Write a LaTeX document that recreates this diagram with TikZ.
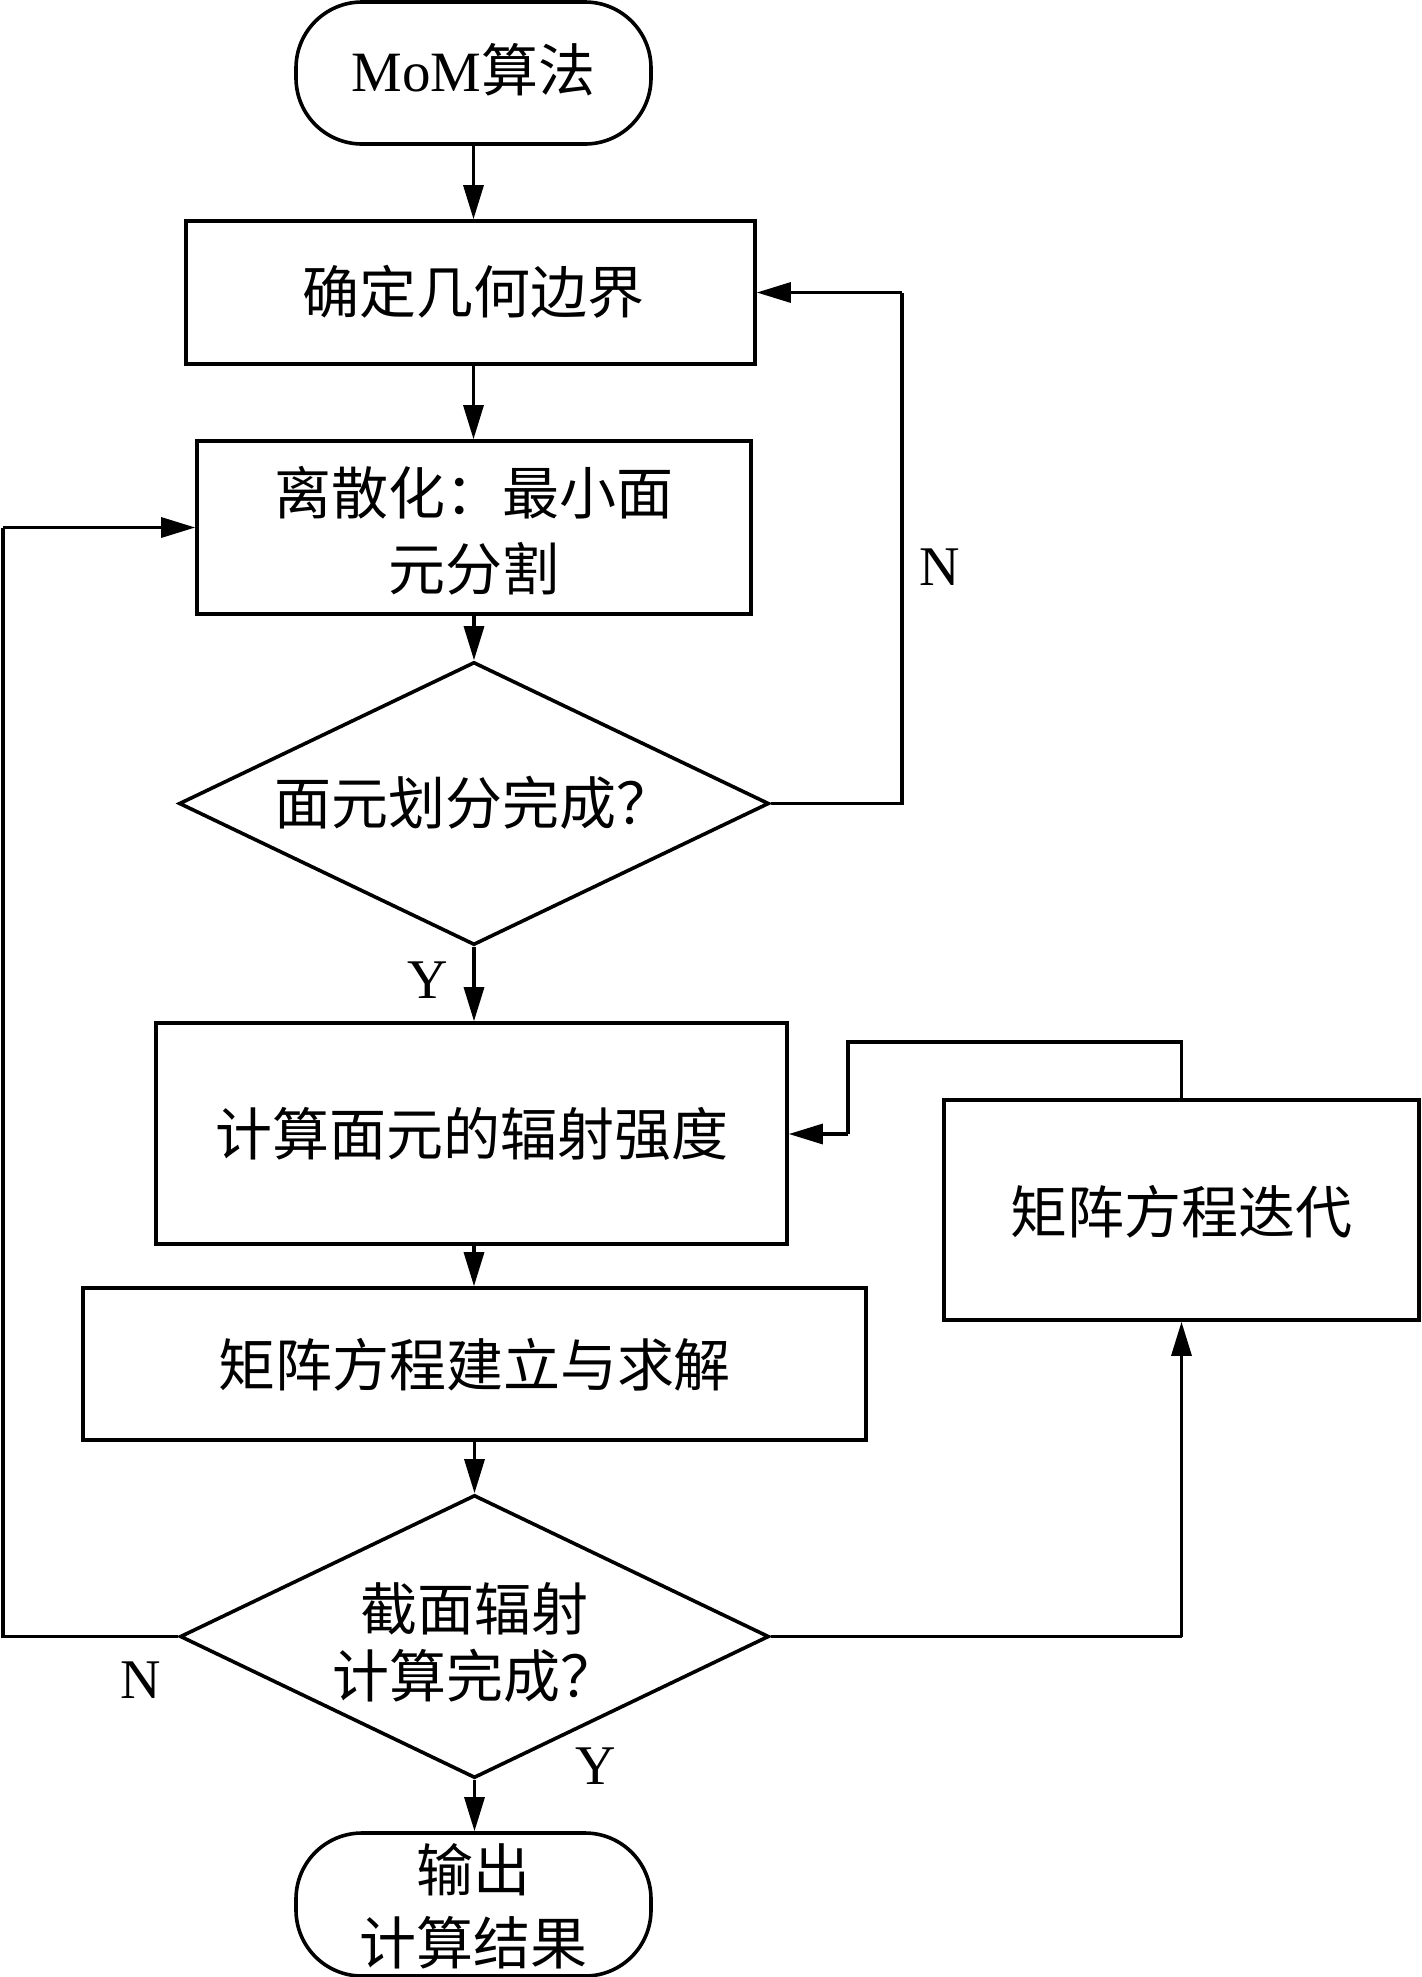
\documentclass[tikz,border=0pt]{standalone}
\usepackage{fontspec}
\setmainfont{Liberation Serif}
\newfontfamily\cjk{Noto Sans CJK SC}
\usetikzlibrary{arrows.meta,shapes.geometric}
\begin{document}
\begin{tikzpicture}[x=0.5pt,y=-0.5pt,
  box/.style={draw,line width=1.8pt,rectangle,inner sep=0pt},
  term/.style={draw,line width=1.8pt,rectangle,rounded corners=33pt,inner sep=0pt},
  dia/.style={draw,line width=1.8pt,diamond,inner sep=0pt,aspect=2.08},
  txt/.style={font=\fontsize{28.5pt}{38pt}\selectfont\cjk,align=center,inner sep=0pt},
  lbl/.style={font=\fontsize{28pt}{34pt}\selectfont,inner sep=0pt},
  conn/.style={line width=1.6pt},
  arr/.style={conn,-{Triangle[length=17pt,width=10pt]}}]
\useasboundingbox (0,0) rectangle (1422,1977);
% shapes
\node[term,minimum width=177.5pt,minimum height=71pt] (s) at (473.5,73) {};
\node[box,minimum width=284.5pt,minimum height=71.5pt] (b1) at (470.5,292.5) {};
\node[box,minimum width=277pt,minimum height=86.5pt] (b2) at (474,527.5) {};
\node[dia,minimum width=295pt,minimum height=141.5pt] (d1) at (474,803.5) {};
\node[box,minimum width=315.5pt,minimum height=110.5pt] (b3) at (471.5,1133.5) {};
\node[box,minimum width=237.5pt,minimum height=110pt] (b4) at (1181.5,1210) {};
\node[box,minimum width=391.5pt,minimum height=76pt] (b5) at (474.5,1364) {};
\node[dia,minimum width=294.5pt,minimum height=141.5pt] (d2) at (474.5,1636.5) {};
\node[term,minimum width=177.5pt,minimum height=71.5pt] (e) at (473.5,1904.5) {};
% texts
\node[txt] (st) at (473.5,70) {\fontspec{Liberation Serif}MoM\cjk 算法};
\node[txt] (b1t) at (473,292) {确定几何边界};
\node[txt] (b2t) at (474,531) {离散化：最小面\\元分割};
\node[txt] (d1t) at (474,803) {面元划分完成？};
\node[txt] (b3t) at (471.5,1134) {计算面元的辐射强度};
\node[txt] (b4t) at (1181.5,1212) {矩阵方程迭代};
\node[txt] (b5t) at (474.5,1365) {矩阵方程建立与求解};
\node[txt,font=\fontsize{28.5pt}{33.5pt}\selectfont\cjk] (d2t) at (474.5,1642) {截面辐射\\计算完成？};
\node[txt,font=\fontsize{28.5pt}{36.5pt}\selectfont\cjk] (et) at (473.5,1906) {输出\\计算结果};
% labels
\node[lbl] (ln1) at (940,567) {N};
\node[lbl] (ly1) at (428,980) {Y};
\node[lbl] (ln2) at (140.5,1680) {N};
\node[lbl] (ly2) at (596,1766) {Y};
% coordinates
\coordinate (n1a) at (902,803.5);
\coordinate (n1b) at (902,292.5);
\coordinate (fa) at (1181.5,1042);
\coordinate (fb) at (848,1042);
\coordinate (fc) at (848,1134);
\coordinate (na) at (3,1636.5);
\coordinate (nb) at (3,527.5);
\coordinate (ya) at (1181.5,1636.5);
% connectors
\draw[arr] (s.south) -- (s.south |- b1.north);
\draw[arr] (s.south |- b1.south) -- (s.south |- b2.north);
\draw[arr] (d1.north |- b2.south) -- (d1.north);
\draw[conn] (d1.east) -- (n1a) -- (n1b);
\draw[arr] (n1b) -- (b1.east);
\draw[arr] (d1.south) -- (d1.south |- b3.north);
\draw[arr] (d1.south |- b3.south) -- (d1.south |- b5.north);
\draw[arr] (d2.north |- b5.south) -- (d2.north);
\draw[arr] (d2.south) -- (d2.south |- e.north);
\draw[conn] (b4.north) -- (fa) -- (fb) -- (fc);
\draw[arr] (fc) -- (fc -| b3.east);
\draw[conn] (d2.west) -- (na) -- (nb);
\draw[arr] (nb) -- (nb -| b2.west);
\draw[conn] (d2.east) -- (ya);
\draw[arr] (ya) -- (b4.south);
\end{tikzpicture}
\end{document}
